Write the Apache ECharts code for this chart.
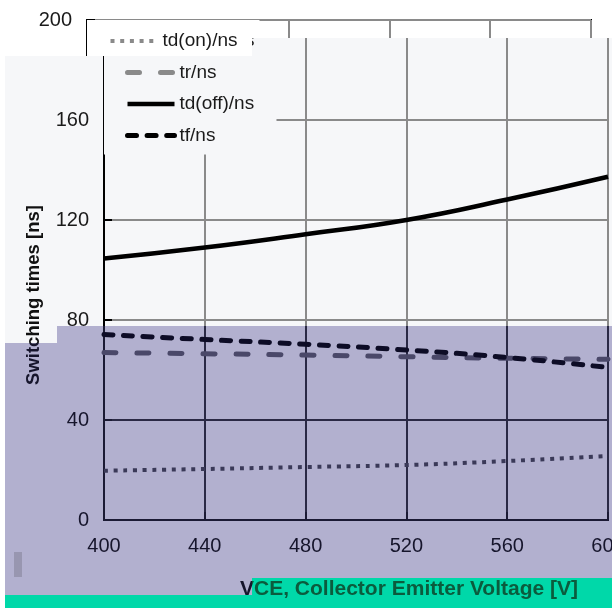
<!DOCTYPE html>
<html><head><meta charset="utf-8">
<script src="https://cdn.jsdelivr.net/npm/echarts@6/dist/echarts.min.js"></script>
<style>
html,body{margin:0;padding:0;background:#fff;}
#stage{position:relative;width:612px;height:608px;overflow:hidden;background:#fff;}
.layer{position:absolute;left:0;top:0;width:612px;height:608px;overflow:hidden;}
.chart{position:absolute;left:0;top:0;width:640px;height:608px;}
</style></head><body>
<div id="stage">
 <div class="layer"><div class="chart" id="cBase"></div></div>
 <div class="layer" style="background:#fff;clip-path:polygon(0 0,612px 0,612px 38px,252px 38px,252px 56px,0 56px)"><div class="chart" id="cTop" style="left:-17px"></div></div>
 <div class="layer" style="clip-path:polygon(5px 343px,57px 343px,57px 326px,612px 326px,612px 578px,252px 578px,252px 595px,5px 595px)"><div class="chart" id="cPur"></div></div>
 <div class="layer" style="clip-path:polygon(5px 595px,252px 595px,252px 578px,612px 578px,612px 608px,5px 608px)"><div class="chart" id="cTeal"></div></div>
 <div style="position:absolute;left:0;top:56px;width:5px;height:552px;background:#fff"></div>
 <div style="position:absolute;left:14px;top:552px;width:8px;height:25px;background:#9896b0"></div>
</div>
<script>
// ---- data ----
const voltages = [400, 440, 480, 520, 560, 600];
const tdOn  = [19.7, 20.4, 21.2, 22.0, 23.6, 25.6];
const tr    = [67.0, 66.5, 66.0, 65.3, 64.7, 64.3];
const tdOff = [104.6, 109.0, 114.3, 120.0, 128.2, 137.3];
const tf    = [74.2, 72.2, 70.3, 68.0, 65.0, 61.0];
const seriesNames = ['td(on)/ns', 'tr/ns', 'td(off)/ns', 'tf/ns'];
const xMin = 400, xMax = 600, xStep = 40;
const yMin = 0, yMax = 200, yStep = 40;
const yTitle = 'Switching times [ns]';
const xTitle = 'VCE, Collector Emitter Voltage [V]';

const FONT = '"Liberation Sans", Arial, sans-serif';

const variants = {
  light: {bg:'#f6f7f9', axis:'#000', grid:'#8a8a8a', text:'#1a1a1a', black:'#000', g1:'#8a8a8a', g2:'#8a8a8a', name:'#111'},
  top:   {bg:'#ffffff', axis:'#000', grid:'#8a8a8a', text:'#1a1a1a', black:'#000', g1:'#8a8a8a', g2:'#8a8a8a', name:'#111'},
  pur:   {bg:'#b2b0cf', axis:'#1b1a34', grid:'#2a2945', text:'#16152c', black:'#0d0c26', g1:'#3a3958', g2:'#4a4869', name:'#16152c'},
  teal:  {bg:'#00d8a9', axis:'#0a5a3c', grid:'#0a5a3c', text:'#0a5a3c', black:'#0a5a3c', g1:'#0a5a3c', g2:'#0a5a3c', name:'#0b5b3d'}
};

function pairs(vals){ return voltages.map((v,i)=>[v, vals[i]]); }

function styles(v){
  return [
    {color:v.g1, width:4, type:[4,5.7], cap:'butt'},
    {color:v.g2, width:5, type:[12,21], cap:'round'},
    {color:v.black, width:4.5, type:'solid', cap:'butt'},
    {color:v.black, width:5, type:[9,10.6], cap:'round'}
  ];
}

function buildOption(v){
  const ls = styles(v);
  const vals = [tdOn, tr, tdOff, tf];
  return {
    animation:false,
    backgroundColor:v.bg,
    grid:{left:104, right:32, top:20, bottom:88, show:true, borderColor:v.axis, borderWidth:2, backgroundColor:'transparent'},
    legend:{
      orient:'vertical', left:104, top:20,
      itemWidth:47, itemHeight:20, itemGap:11.5,
      padding:[11,22,9,21],
      backgroundColor:v.bg,
      itemStyle:{opacity:0, borderWidth:0},
      textStyle:{fontSize:19, color:v.text, fontFamily:FONT, lineHeight:20},
      data:seriesNames.map((n,i)=>({name:n, lineStyle:Object.assign({}, ls[i]), itemStyle:{opacity:0}}))
    },
    xAxis:{
      type:'value', min:xMin, max:xMax, interval:xStep,
      axisLine:{show:true, onZero:false, lineStyle:{color:v.axis, width:2}},
      axisTick:{show:true, inside:true, length:8, lineStyle:{color:v.axis, width:2}},
      axisLabel:{fontSize:20, color:v.text, fontFamily:FONT, margin:16},
      splitLine:{show:true, lineStyle:{color:v.grid, width:2}}
    },
    yAxis:{
      type:'value', min:yMin, max:yMax, interval:yStep,
      axisLine:{show:true, lineStyle:{color:v.axis, width:2}},
      axisTick:{show:true, inside:true, length:8, lineStyle:{color:v.axis, width:2}},
      axisLabel:{fontSize:20, color:v.text, fontFamily:FONT, margin:15},
      splitLine:{show:true, lineStyle:{color:v.grid, width:2}}
    },
    graphic:[
      {type:'text', x:34, y:295, rotation:Math.PI/2,
       style:{text:yTitle, font:'bold 18.5px "Liberation Sans", Arial, sans-serif', fill:v.name, align:'center', verticalAlign:'middle'}},
      {type:'text', x:578, y:589,
       style:{text:xTitle, font:'bold 21px "Liberation Sans", Arial, sans-serif', fill:v.name, align:'right', verticalAlign:'middle'}}
    ],
    series:seriesNames.map((n,i)=>({
      name:n, type:'line', data:pairs(vals[i]), symbol:'none', smooth:true, z:(i<2?2:3),
      lineStyle:Object.assign({}, ls[i]), itemStyle:{color:ls[i].color}
    }))
  };
}

[['cBase','light'],['cTop','top'],['cPur','pur'],['cTeal','teal']].forEach(([id,k])=>{
  const c = echarts.init(document.getElementById(id), null, {renderer:'canvas'});
  c.setOption(buildOption(variants[k]));
});
</script>
</body></html>
